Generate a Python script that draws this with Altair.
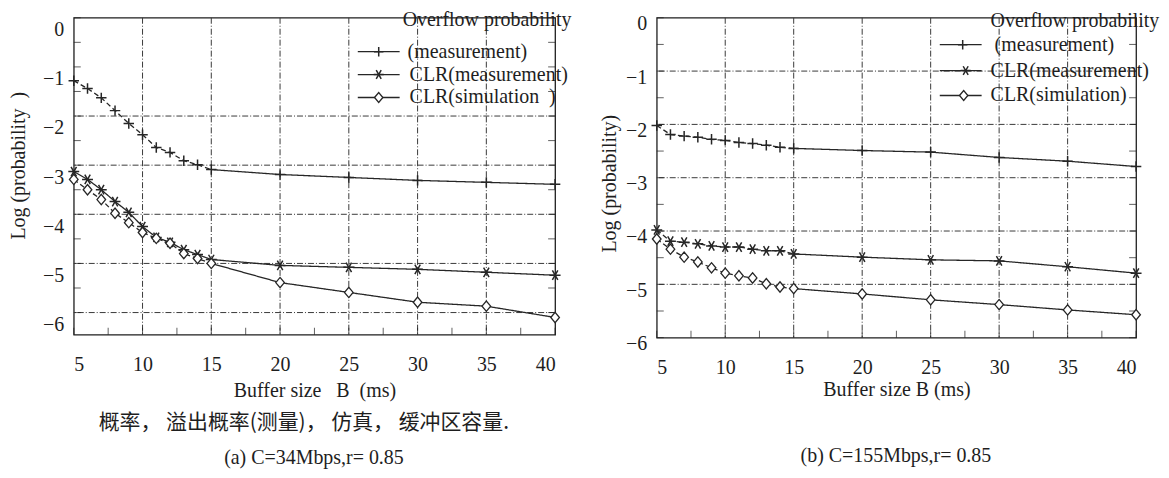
import altair as alt
import pandas as pd

# ---------------- data ----------------
B = [5, 6, 7, 8, 9, 10, 11, 12, 13, 14, 15, 20, 25, 30, 35, 40]

# (a) C=34Mbps
A_OVERFLOW = [-1.28, -1.44, -1.63, -1.89, -2.15, -2.38, -2.64, -2.74, -2.91, -2.99, -3.09,
              -3.19, -3.25, -3.31, -3.35, -3.39]
A_CLR_MEAS = [-3.13, -3.29, -3.50, -3.74, -3.96, -4.25, -4.47, -4.57, -4.72, -4.82, -4.92,
              -5.04, -5.08, -5.12, -5.18, -5.24]
A_CLR_SIM = [-3.29, -3.50, -3.70, -3.98, -4.17, -4.37, -4.49, -4.59, -4.80, -4.90, -5.00,
             -5.39, -5.59, -5.79, -5.87, -6.10]

# (b) C=155Mbps
B_OVERFLOW = [-2.02, -2.19, -2.22, -2.24, -2.28, -2.30, -2.34, -2.36, -2.39, -2.43, -2.45,
              -2.49, -2.52, -2.62, -2.69, -2.79]
B_CLR_MEAS = [-3.98, -4.19, -4.21, -4.24, -4.28, -4.30, -4.30, -4.34, -4.37, -4.37, -4.43,
              -4.49, -4.54, -4.56, -4.67, -4.79]
B_CLR_SIM = [-4.15, -4.34, -4.49, -4.58, -4.69, -4.79, -4.84, -4.88, -4.99, -5.05, -5.08,
             -5.18, -5.29, -5.38, -5.48, -5.57]

SERIES = ["overflow", "clr_meas", "clr_sim"]
A_LEGEND = ["Overflow probability", "(measurement)", "CLR(measurement)", "CLR(simulation\u00a0\u00a0)"]
B_LEGEND = ["Overflow probability", "(measurement)", "CLR(measurement)", "CLR(simulation)"]

X_LABELS = [5, 10, 15, 20, 25, 30, 35, 40]
X_MINOR = [5, 7.5, 10, 12.5, 15, 17.5, 20, 22.5, 25, 27.5, 30, 32.5, 35, 37.5, 40]
Y_LABELS = [0, -1, -2, -3, -4, -5, -6]
Y_MINOR = [0, -0.5, -1, -1.5, -2, -2.5, -3, -3.5, -4, -4.5, -5, -5.5, -6]
GRID_X = [10, 15, 20, 25, 30, 35]
A_GRID_Y = [-2, -3, -4, -5, -6]
B_GRID_Y = [-1, -2, -3, -4, -5]

A_XTITLE = "Buffer size\u00a0\u00a0\u00a0B\u00a0\u00a0(ms)"
B_XTITLE = "Buffer size B (ms)"
A_YTITLE = "Log (probability\u00a0\u00a0)"
B_YTITLE = "Log (probability)"
CN_NOTE = "概率，  溢出概率(测量)，  仿真，  缓冲区容量."
A_CAPTION = "(a) C=34Mbps,r= 0.85"
B_CAPTION = "(b) C=155Mbps,r= 0.85"

SERIF = "Liberation Serif"
INK = "#1e1e1e"
LINE = "#262626"
GRID = "#3a3a3a"

PLUS = "M-1,0L1,0M0,-1L0,1"
STAR = "M-1,0L1,0M-0.5,-0.87L0.5,0.87M-0.5,0.87L0.5,-0.87"
DIAMOND = "M-1,0L0,-1.2L1,0L0,1.2Z"


def series_frame(values, dashed):
    rows = []
    for b, v in zip(B, values):
        if b <= 15:
            rows.append({"x": b, "y": v, "seg": "a", "style": "dashed" if dashed else "solid"})
        if b >= 15:
            rows.append({"x": b, "y": v, "seg": "b", "style": "solid"})
    return pd.DataFrame(rows)


def panel(values, dashed, ydom, grid_y, w, h, lab_off, ytitle, ytx, yty, xtitle, xty,
          legend, leg, bottom):
    xscale = alt.Scale(domain=[5, 40], nice=False, zero=False)
    yscale = alt.Scale(domain=ydom, nice=False, zero=False)
    xaxis = alt.Axis(values=X_LABELS, title=xtitle, labelPadding=20, ticks=False, domain=False,
                     grid=False, titleX=w / 2, titleY=xty, titleBaseline="middle",
                     titleAlign="center")
    yaxis = alt.Axis(values=Y_LABELS, title=ytitle, labelPadding=10, labelOffset=lab_off,
                     ticks=False, domain=False, grid=False, titleX=ytx, titleY=yty,
                     titleBaseline="middle", titleAlign="center", titleAngle=270)

    def X(f="x"):
        return alt.X(f + ":Q", scale=xscale, axis=xaxis)

    def Y(f="y"):
        return alt.Y(f + ":Q", scale=yscale, axis=yaxis)

    layers = []
    gdash = [6, 2, 1, 2]
    layers.append(alt.Chart(pd.DataFrame({"y": grid_y})).mark_rule(
        color=GRID, strokeWidth=1, strokeDash=gdash).encode(y=Y()))
    layers.append(alt.Chart(pd.DataFrame({"x": GRID_X})).mark_rule(
        color=GRID, strokeWidth=1, strokeDash=gdash).encode(x=X()))
    # inward ticks
    ydf = pd.DataFrame({"y": Y_MINOR})
    xdf = pd.DataFrame({"x": X_MINOR})
    layers.append(alt.Chart(ydf).mark_tick(orient="horizontal", size=7, thickness=1, color=INK)
                  .encode(y=Y(), x=alt.value(3.5)))
    layers.append(alt.Chart(ydf).mark_tick(orient="horizontal", size=7, thickness=1, color=INK)
                  .encode(y=Y(), x=alt.value(w - 3.5)))
    layers.append(alt.Chart(xdf).mark_tick(orient="vertical", size=7, thickness=1, color=INK)
                  .encode(x=X(), y=alt.value(h - 3.5)))

    shapes = [PLUS, STAR, DIAMOND]
    sizes = [110, 120, 75]
    for vals, dsh, shp, sz in zip(values, dashed, shapes, sizes):
        df = series_frame(vals, dsh)
        layers.append(alt.Chart(df).mark_line(color=LINE, strokeWidth=1.3).encode(
            x=X(), y=Y(), detail="seg:N",
            strokeDash=alt.StrokeDash("style:N", scale=alt.Scale(
                domain=["solid", "dashed"], range=[[1, 0], [5, 3]]), legend=None)))
        pts = pd.DataFrame({"x": B, "y": vals})
        if shp == DIAMOND:
            mk = alt.Chart(pts).mark_point(shape=shp, size=sz, filled=True, fill="white",
                                           stroke=LINE, strokeWidth=1.3, opacity=1)
        else:
            mk = alt.Chart(pts).mark_point(shape=shp, size=sz, filled=False, stroke=LINE,
                                           strokeWidth=1.5, opacity=1)
        layers.append(mk.encode(x=X(), y=Y()))

    # legend (drawn by hand, as in the figure)
    one = pd.DataFrame({"k": [0]})
    txt = dict(font=SERIF, fontSize=20, color=INK, align="left", baseline="middle")
    layers.append(alt.Chart(pd.DataFrame({"t": [legend[0]]})).mark_text(**txt).encode(
        text="t:N", x=alt.value(leg["tx0"]), y=alt.value(leg["y0"])))
    rows = [(legend[1], leg["y1"], PLUS, 90, False),
            (legend[2], leg["y2"], STAR, 100, False),
            (legend[3], leg["y3"], DIAMOND, 70, True)]
    for i, (lab, yy, shp, sz, fill) in enumerate(rows):
        layers.append(alt.Chart(one).mark_rule(color=LINE, strokeWidth=1.3).encode(
            x=alt.value(leg["lx0"]), x2=alt.value(leg["lx1"]), y=alt.value(yy)))
        if fill:
            pm = alt.Chart(one).mark_point(shape=shp, size=sz, filled=True, fill="white",
                                           stroke=LINE, strokeWidth=1.3, opacity=1)
        else:
            pm = alt.Chart(one).mark_point(shape=shp, size=sz, filled=False, stroke=LINE,
                                           strokeWidth=1.5, opacity=1)
        layers.append(pm.encode(x=alt.value(leg["px"][i]), y=alt.value(yy)))
        layers.append(alt.Chart(pd.DataFrame({"t": [lab]})).mark_text(**txt).encode(
            text="t:N", x=alt.value(leg["tx"][i]), y=alt.value(yy)))

    for (t, x, y, font, size, align) in bottom:
        layers.append(alt.Chart(pd.DataFrame({"t": [t]})).mark_text(
            font=font, fontSize=size, color=INK, align=align, baseline="middle").encode(
            text="t:N", x=alt.value(x), y=alt.value(y)))

    return alt.layer(*layers).properties(width=w, height=h)


left = panel(
    [A_OVERFLOW, A_CLR_MEAS, A_CLR_SIM], [True, False, True], [-6.45, 0], A_GRID_Y,
    483, 318, 12, A_YTITLE, -55, 148, A_XTITLE, 56, A_LEGEND,
    dict(tx0=330, y0=2, lx0=285, lx1=327, px=[306, 306, 306], tx=[335, 337, 337],
         y1=34, y2=57, y3=80),
    [(CN_NOTE, 25, 407, "Noto Sans CJK SC", 21, "left"),
     (A_CAPTION, 241, 442, SERIF, 20, "center")])

right = panel(
    [B_OVERFLOW, B_CLR_MEAS, B_CLR_SIM], [True, True, True], [-6, 0], B_GRID_Y,
    481, 321, 6, B_YTITLE, -47, 166, B_XTITLE, 52, B_LEGEND,
    dict(tx0=335, y0=3, lx0=284, lx1=326, px=[307, 310, 308], tx=[339, 335, 335],
         y1=27, y2=53, y3=78),
    [(B_CAPTION, 240, 440, SERIF, 20, "center")])

chart = alt.hconcat(left, right, spacing=102, bounds="flush").properties(
    padding=0, background="white"
).configure_view(stroke=INK, strokeWidth=1.3).configure_axis(
    labelFont=SERIF, labelFontSize=20, labelColor=INK, titleFont=SERIF, titleFontSize=20,
    titleColor=INK, titleFontWeight="normal"
)

chart.save("out.html", embed_options={"renderer": "svg", "actions": False})
